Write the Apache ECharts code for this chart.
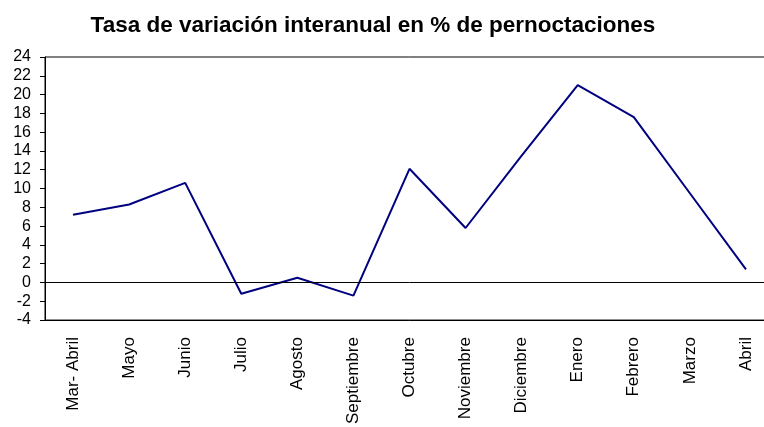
<!DOCTYPE html>
<html>
<head>
<meta charset="utf-8">
<script src="https://cdn.jsdelivr.net/npm/echarts@6/dist/echarts.min.js"></script>
<style>
	html, body { margin: 0; padding: 0; background: #fff; overflow: hidden; }
	/* wider than the window: the plot's right side is cut off, as in the original */
	#chart { width: 780px; height: 427px; }
</style>
</head>
<body>
<div id="chart"></div>
<script>
var months = [ "Mar- Abril", "Mayo", "Junio", "Julio", "Agosto", "Septiembre",
	"Octubre", "Noviembre", "Diciembre", "Enero", "Febrero", "Marzo", "Abril" ];
var tasa = [ 7.2, 8.3, 10.6, -1.2, 0.5, -1.4, 12.1, 5.8, 13.5, 21.0, 17.6, 9.5, 1.4 ];
var yMin = -4;
var yMax = 24;
var yStep = 2;

var myChart = echarts.init(document.getElementById('chart'));
var option = {
	animation : false,
	title : {
		text : 'Tasa de variación interanual en % de pernoctaciones',
		left : 368,
		textAlign : 'center',
		top : 9,
		textStyle : {
			fontFamily : 'Liberation Sans',
			fontSize : 22.5,
			fontWeight : 'bold',
			color : '#000'
		}
	},
	grid : {
		left : 45,
		top : 57,
		right : 6,
		bottom : 106,
		show : true,
		borderColor : '#000',
		borderWidth : 1
	},
	xAxis : {
		type : 'category',
		data : months,
		boundaryGap : true,
		axisLine : { onZero : false, lineStyle : { color : '#000' } },
		axisTick : { show : false },
		axisLabel : {
			rotate : 90,
			margin : 17,
			interval : 0,
			fontFamily : 'Liberation Sans',
			fontSize : 17,
			color : '#000'
		},
		splitLine : { show : false }
	},
	yAxis : {
		type : 'value',
		min : yMin,
		max : yMax,
		interval : yStep,
		axisLine : { show : true, lineStyle : { color : '#000' } },
		axisTick : { show : true, length : 5, lineStyle : { color : '#000' } },
		axisLabel : {
			margin : 14,
			fontFamily : 'Liberation Sans',
			fontSize : 16,
			color : '#000'
		},
		splitLine : { show : false }
	},
	series : [
		{
			name : 'Tasa',
			type : 'line',
			data : tasa,
			symbol : 'none',
			lineStyle : { color : '#000080', width : 2 },
			markLine : {
				silent : true,
				symbol : 'none',
				label : { show : false },
				lineStyle : { color : '#000', width : 1, type : 'solid' },
				data : [ { yAxis : 0 } ]
			}
		}
	]
};
myChart.setOption(option);
</script>
</body>
</html>
